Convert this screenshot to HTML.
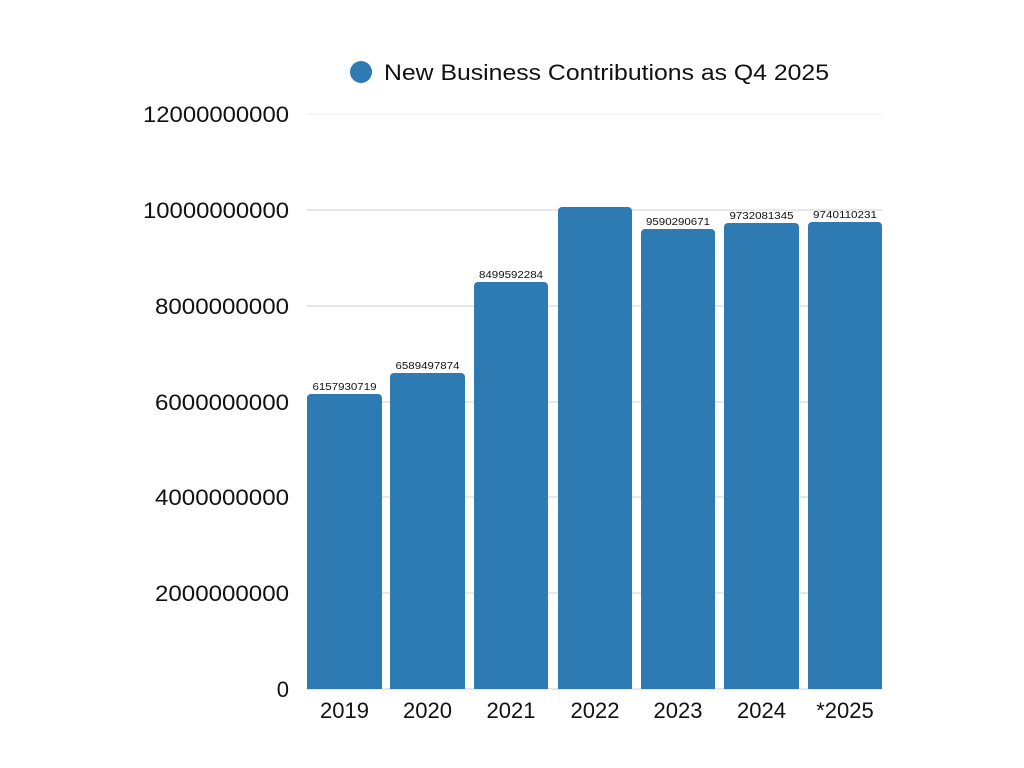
<!DOCTYPE html>
<html><head><meta charset="utf-8"><style>body{margin:0;background:#fff}svg{display:block}</style></head>
<body>
<svg width="1024" height="768" xmlns="http://www.w3.org/2000/svg" font-family="Liberation Sans, sans-serif">
<rect width="1024" height="768" fill="#fff"/>
<circle cx="361" cy="72" r="11" fill="#2e7bb4"/>
<text x="384" y="80" font-size="22" fill="#111" textLength="445" lengthAdjust="spacingAndGlyphs">New Business Contributions as Q4 2025</text>
<g stroke-width="1">
<line x1="307" x2="882" y1="114" y2="114" stroke="#ececec"/>
<line x1="307" x2="882" y1="210" y2="210" stroke="#d0d0d0"/>
<line x1="307" x2="882" y1="306" y2="306" stroke="#d0d0d0"/>
<line x1="307" x2="882" y1="402" y2="402" stroke="#d0d0d0"/>
<line x1="307" x2="882" y1="497" y2="497" stroke="#d0d0d0"/>
<line x1="307" x2="882" y1="593" y2="593" stroke="#d0d0d0"/>
<line x1="307" x2="882" y1="689" y2="689" stroke="#d0d0d0"/>
</g>
<g font-size="22" fill="#111" text-anchor="end">
<text x="289" y="122" textLength="146" lengthAdjust="spacingAndGlyphs">12000000000</text>
<text x="289" y="218" textLength="146" lengthAdjust="spacingAndGlyphs">10000000000</text>
<text x="289" y="314" textLength="134" lengthAdjust="spacingAndGlyphs">8000000000</text>
<text x="289" y="410" textLength="134" lengthAdjust="spacingAndGlyphs">6000000000</text>
<text x="289" y="505" textLength="134" lengthAdjust="spacingAndGlyphs">4000000000</text>
<text x="289" y="601" textLength="134" lengthAdjust="spacingAndGlyphs">2000000000</text>
<text x="289" y="697">0</text>
</g>
<g fill="#2e7bb4">
<path d="M307,689V398a4,4 0 0 1 4,-4H378a4,4 0 0 1 4,4V689Z"/>
<path d="M390,689V377a4,4 0 0 1 4,-4H461a4,4 0 0 1 4,4V689Z"/>
<path d="M474,689V286a4,4 0 0 1 4,-4H544a4,4 0 0 1 4,4V689Z"/>
<path d="M558,689V211a4,4 0 0 1 4,-4H628a4,4 0 0 1 4,4V689Z"/>
<path d="M641,689V233a4,4 0 0 1 4,-4H711a4,4 0 0 1 4,4V689Z"/>
<path d="M724,689V227a4,4 0 0 1 4,-4H795a4,4 0 0 1 4,4V689Z"/>
<path d="M808,689V226a4,4 0 0 1 4,-4H878a4,4 0 0 1 4,4V689Z"/>
</g>
<g font-size="10" fill="#111" text-anchor="middle">
<text x="344.5" y="390" textLength="64" lengthAdjust="spacingAndGlyphs">6157930719</text>
<text x="427.5" y="369" textLength="64" lengthAdjust="spacingAndGlyphs">6589497874</text>
<text x="511" y="278" textLength="64" lengthAdjust="spacingAndGlyphs">8499592284</text>
<text x="678" y="225" textLength="64" lengthAdjust="spacingAndGlyphs">9590290671</text>
<text x="761.5" y="219" textLength="64" lengthAdjust="spacingAndGlyphs">9732081345</text>
<text x="845" y="218" textLength="64" lengthAdjust="spacingAndGlyphs">9740110231</text>
</g>
<g font-size="22" fill="#111" text-anchor="middle">
<text x="344.5" y="718">2019</text>
<text x="427.5" y="718">2020</text>
<text x="511" y="718">2021</text>
<text x="595" y="718">2022</text>
<text x="678" y="718">2023</text>
<text x="761.5" y="718">2024</text>
<text x="845" y="718">*2025</text>
</g>
</svg>
</body></html>
